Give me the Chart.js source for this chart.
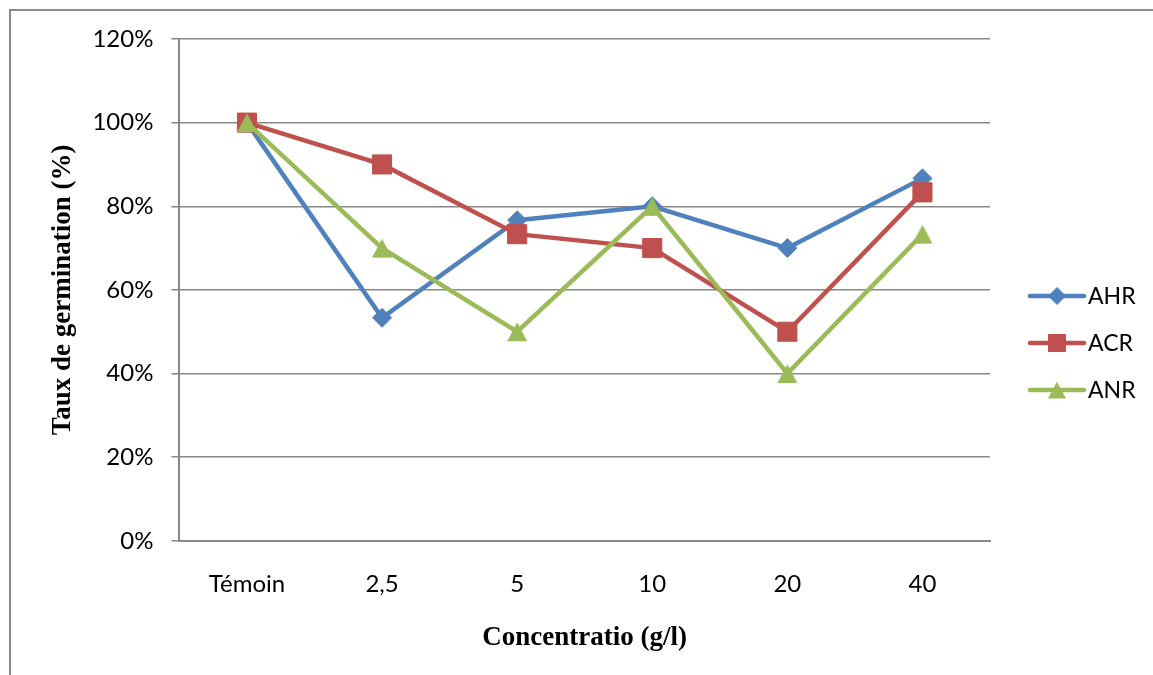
<!DOCTYPE html>
<html>
<head>
<meta charset="utf-8">
<script src="https://cdn.jsdelivr.net/npm/chart.js@4.4.1/dist/chart.umd.min.js"></script>
<style>
  html, body { margin: 0; padding: 0; background: #ffffff; }
  #wrap { width: 1153px; height: 675px; position: relative; }
</style>
</head>
<body>
<div id="wrap"><canvas id="c" width="1153" height="675"></canvas></div>
<script>
// Concentrations tested (x categories)
const categories = ['Témoin', '2,5', '5', '10', '20', '40'];

// Germination rates (fraction of seeds), one array per extract
const ahr = [1.0, 0.5333, 0.7667, 0.80, 0.70, 0.8667];
const acr = [1.0, 0.90, 0.7333, 0.70, 0.50, 0.8333];
const anr = [1.0, 0.70, 0.50, 0.80, 0.40, 0.7333];

const seriesNames = ['AHR', 'ACR', 'ANR'];

// Y axis ticks (fractions shown as percentages)
const yTicks = [0, 0.2, 0.4, 0.6, 0.8, 1.0, 1.2];

const xTitle = 'Concentratio (g/l)';
const yTitle = 'Taux de germination (%)';

const BLUE = '#4F81BD', RED = '#C0504D', GREEN = '#9BBB59';
const GRID = '#888888';
const TICK_FONT = { family: 'Lato', size: 24 };
const TITLE_FONT = { family: 'Liberation Serif', size: 27, weight: 'bold' };

// Triangle marker centred on its bounding box (image point style)
function triangleSprite(color, w, h) {
  const c = document.createElement('canvas');
  c.width = w + 2; c.height = h + 2;
  const g = c.getContext('2d');
  g.fillStyle = color;
  g.beginPath();
  g.moveTo(c.width / 2, 1);
  g.lineTo(c.width - 1, c.height - 1);
  g.lineTo(1, c.height - 1);
  g.closePath();
  g.fill();
  return c;
}

// Thin frame around the whole figure
const framePlugin = {
  id: 'frame',
  beforeDraw(chart) {
    const ctx = chart.ctx;
    ctx.save();
    ctx.strokeStyle = '#8a8a8a';
    ctx.lineWidth = 2;
    ctx.beginPath();
    ctx.moveTo(10, chart.height);
    ctx.lineTo(10, 10);
    ctx.lineTo(chart.width, 10);
    ctx.stroke();
    ctx.restore();
  }
};

// Legend drawn as a short line with the series marker, text on the right
function drawMarker(ctx, style, r, x, y) {
  if (style instanceof HTMLCanvasElement) {
    ctx.drawImage(style, x - style.width / 2, y - style.height / 2);
    return;
  }
  if (Chart.helpers && Chart.helpers.drawPoint) {
    Chart.helpers.drawPoint(ctx, { pointStyle: style, radius: r, rotation: 0, borderWidth: 1 }, x, y);
    return;
  }
  ctx.beginPath();
  if (style === 'rectRot') {
    ctx.moveTo(x, y - r); ctx.lineTo(x + r, y); ctx.lineTo(x, y + r); ctx.lineTo(x - r, y);
  } else {
    const s = r * Math.SQRT1_2;
    ctx.rect(x - s, y - s, 2 * s, 2 * s);
  }
  ctx.closePath();
  ctx.fill();
  ctx.stroke();
}

const lineLegendPlugin = {
  id: 'lineLegend',
  afterDraw(chart, args, opts) {
    const ctx = chart.ctx;
    ctx.save();
    chart.data.datasets.forEach((ds, i) => {
      const y = opts.top + i * opts.spacing;
      const x0 = opts.left, x1 = opts.left + opts.lineLength;
      ctx.strokeStyle = ds.borderColor;
      ctx.fillStyle = ds.backgroundColor;
      ctx.lineWidth = ds.borderWidth;
      ctx.lineCap = 'round';
      ctx.beginPath();
      ctx.moveTo(x0, y);
      ctx.lineTo(x1, y);
      ctx.stroke();
      ctx.lineWidth = 1;
      ctx.lineCap = 'butt';
      drawMarker(ctx, ds.legendStyle, ds.legendRadius, (x0 + x1) / 2, y);
      ctx.fillStyle = '#000000';
      ctx.font = `${opts.fontSize}px ${opts.fontFamily}`;
      ctx.textBaseline = 'middle';
      ctx.textAlign = 'left';
      ctx.fillText(ds.label, x1 + opts.textGap, y + 1);
    });
    ctx.restore();
  }
};

const seriesData = [ahr, acr, anr];
const colors = [BLUE, RED, GREEN];
const styles = ['rectRot', 'rect', triangleSprite(GREEN, 20, 19)];
const legendStyles = ['rectRot', 'rect', triangleSprite(GREEN, 18, 17)];
const radii = [9.5, 13.5, 11];
const legendRadii = [8.5, 12, 10];

const datasets = seriesNames.map((name, i) => ({
  label: name,
  data: seriesData[i],
  borderColor: colors[i],
  backgroundColor: colors[i],
  borderWidth: 4.5,
  tension: 0,
  pointStyle: styles[i],
  pointRadius: radii[i],
  pointHoverRadius: radii[i],
  pointBorderWidth: 1,
  pointBackgroundColor: colors[i],
  pointBorderColor: colors[i],
  legendStyle: legendStyles[i],
  legendRadius: legendRadii[i],
  order: 2 - i,
  fill: false
}));

new Chart(document.getElementById('c'), {
  type: 'line',
  data: { labels: categories, datasets },
  plugins: [framePlugin, lineLegendPlugin],
  options: {
    responsive: false,
    animation: false,
    events: [],
    layout: { padding: { left: 10, right: 163, top: 39, bottom: 10 } },
    plugins: {
      legend: { display: false },
      tooltip: { enabled: false },
      lineLegend: { left: 1030, top: 296, spacing: 47, lineLength: 54, textGap: 4, fontSize: 23, fontFamily: 'Lato' }
    },
    scales: {
      x: {
        offset: true,
        grid: { display: false, drawTicks: false },
        border: { display: true, color: GRID, width: 2 },
        ticks: { color: '#000000', font: TICK_FONT, padding: 29, maxRotation: 0 },
        title: { display: true, text: xTitle, color: '#000000', font: TITLE_FONT, padding: { top: -6, bottom: 11 } }
      },
      y: {
        min: 0,
        max: 1.2,
        afterBuildTicks(scale) { scale.ticks = yTicks.map(v => ({ value: v })); },
        grid: { color: GRID, lineWidth: 1.5, drawTicks: true, tickLength: 8 },
        border: { display: true, color: GRID, width: 2 },
        ticks: {
          color: '#000000', font: TICK_FONT, padding: 18,
          callback: v => Math.round(v * 100) + '%'
        },
        title: { display: true, text: yTitle, color: '#000000', font: TITLE_FONT, padding: { top: 37, bottom: -5 } }
      }
    }
  }
});
</script>
</body>
</html>
